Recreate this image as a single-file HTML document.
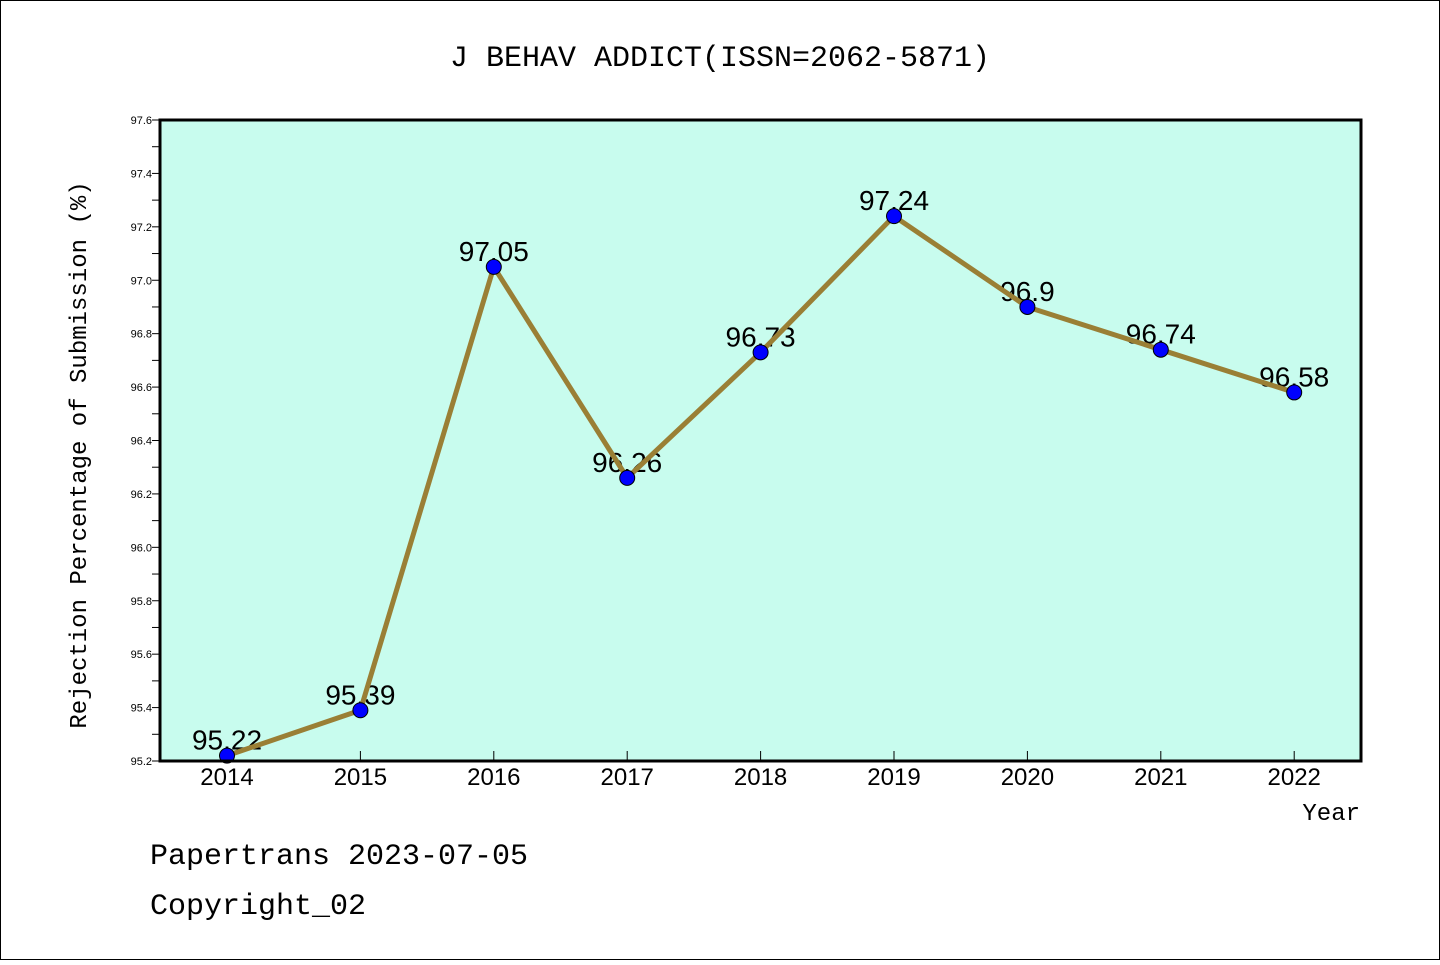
<!DOCTYPE html>
<html><head><meta charset="utf-8"><style>
body{margin:0;background:#fff}
svg text{font-family:"Liberation Mono","DejaVu Sans Mono",monospace}
svg text.s{font-family:"Liberation Sans","DejaVu Sans",sans-serif}
</style></head><body>
<svg id="c" width="1440" height="960" xmlns="http://www.w3.org/2000/svg">
<rect x="0.5" y="0.5" width="1439" height="959" fill="#fff" stroke="#000"/>
<text x="720" y="66" font-size="30" text-anchor="middle">J BEHAV ADDICT(ISSN=2062-5871)</text>
<rect x="160" y="120" width="1201" height="641" fill="#c8fcee"/>
<g id="g"></g>
<rect x="160" y="120" width="1201" height="641" fill="none" stroke="#000" stroke-width="3"/>
<text x="86" y="455" font-size="24" text-anchor="middle" transform="rotate(-90 86 455)">Rejection Percentage of Submission (%)</text>
<text x="1360" y="820" font-size="24" text-anchor="end">Year</text>
<text x="150" y="864" font-size="30">Papertrans 2023-07-05</text>
<text x="150" y="914" font-size="30">Copyright_02</text>
</svg>
<script>
const years=["2014","2015","2016","2017","2018","2019","2020","2021","2022"];
const values=[95.22,95.39,97.05,96.26,96.73,97.24,96.9,96.74,96.58];
const labels=["95.22","95.39","97.05","96.26","96.73","97.24","96.9","96.74","96.58"];
const yTicks=["95.2","95.4","95.6","95.8","96.0","96.2","96.4","96.6","96.8","97.0","97.2","97.4","97.6"];
const NS="http://www.w3.org/2000/svg",g=document.getElementById('g');
const X=i=>227+i*133.4, Y=v=>761-(v-95.2)/2.4*641;
function mk(t,a){const e=document.createElementNS(NS,t);for(const k in a)e.setAttribute(k,a[k]);g.appendChild(e);return e;}
for(let k=0;k<=24;k++){const v=95.2+k*0.1,y=Y(v);
 const t=mk('line',{x1:152,x2:160,y1:y,y2:y,stroke:'#000','stroke-width':1});
 
 }
yTicks.forEach(s=>{const t=mk('text',{x:152,y:Y(+s)+4,'font-size':11,'text-anchor':'end','class':'s'});t.textContent=s;
 
 });
years.forEach((s,i)=>{const l=mk('line',{x1:X(i),x2:X(i),y1:761,y2:751,stroke:'#000','stroke-width':1});
 
 
 const t=mk('text',{x:X(i),y:785,'font-size':24,'text-anchor':'middle','class':'s'});t.textContent=s;
 
 });
values.forEach((v,i)=>{const t=mk('text',{x:X(i),y:Y(v)-6,'font-size':28,'text-anchor':'middle','class':'s'});t.textContent=labels[i];
 
 });
const p=mk('polyline',{points:values.map((v,i)=>X(i)+','+Y(v)).join(' '),fill:'none',stroke:'#9a7f35','stroke-width':5,'stroke-linejoin':'round'});


values.forEach((v,i)=>{const c=mk('circle',{cx:X(i),cy:Y(v),r:7.5,fill:'#0000ff',stroke:'#000','stroke-width':1});
 
 });
</script>
</body></html>
